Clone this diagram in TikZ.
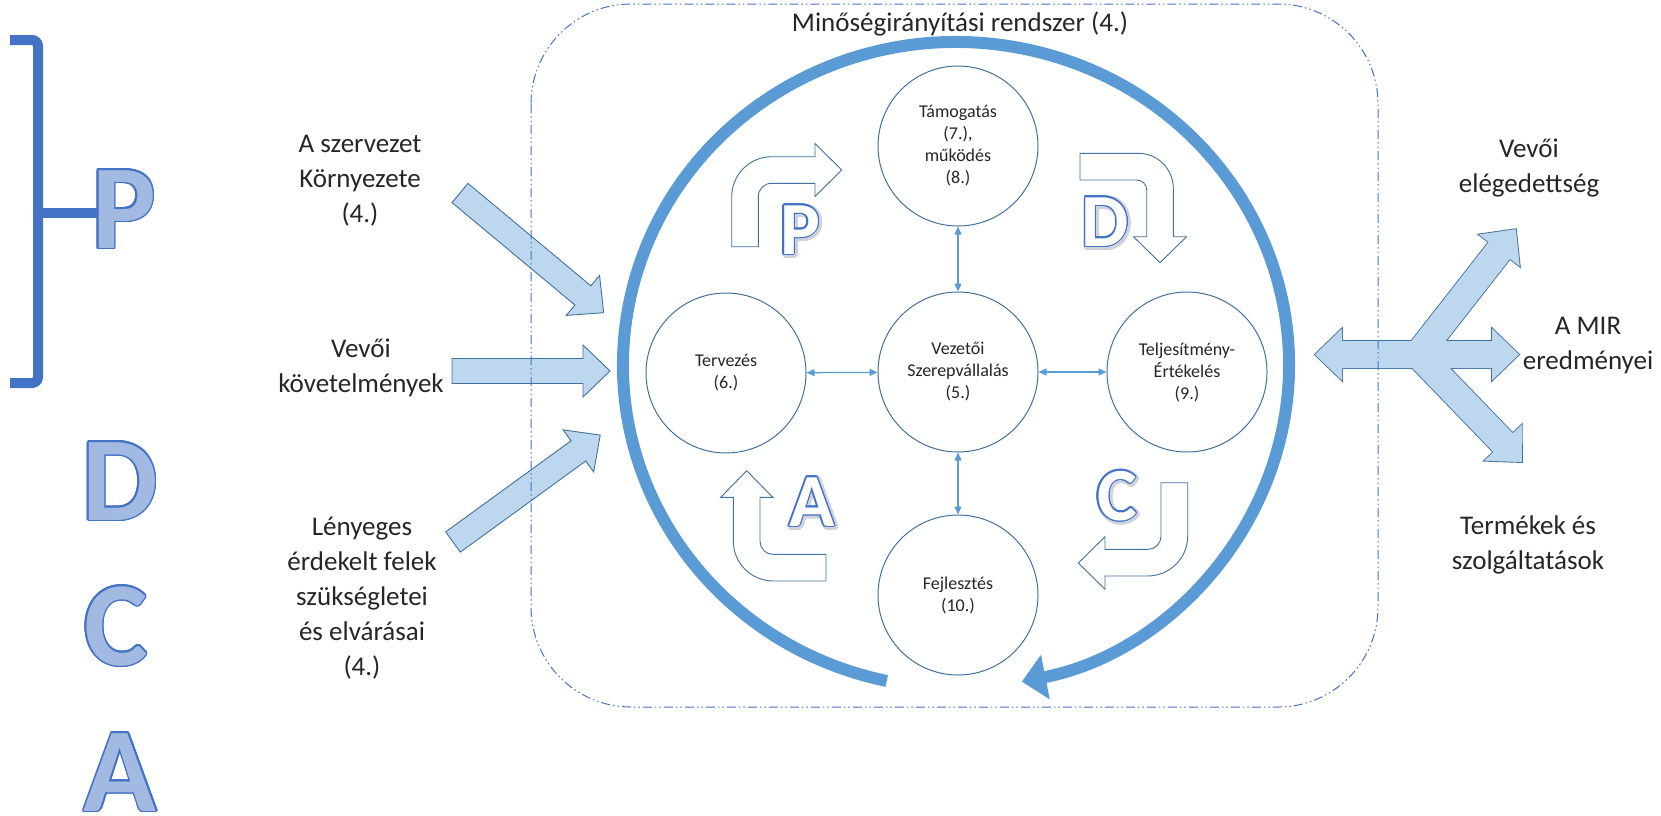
\documentclass[tikz,border=0pt]{standalone}
\usepackage{fontspec}
\setmainfont{Carlito}
\usepackage{contour}
\usetikzlibrary{arrows.meta,calc}
\definecolor{ringblue}{HTML}{5B9BD5}
\definecolor{lightfill}{HTML}{BDD7EE}
\definecolor{edgeblue}{HTML}{41719C}
\definecolor{accent}{HTML}{4472C4}
\definecolor{txt}{HTML}{262626}
\definecolor{patfill}{RGB}{162,186,226}
\definecolor{glow}{RGB}{205,210,220}

% block arrow: #1 style, #2 start, #3 angle, #4 length, #5 half shaft width
\newcommand{\blkarrow}[5]{%
\begin{scope}[shift={(#2)},rotate=#3]
\path[#1] (0,-#5) -- ({#4-27},-#5) -- ({#4-27},-26) -- (#4,0) -- ({#4-27},26) -- ({#4-27},#5) -- (0,#5) -- cycle;
\end{scope}}

\begin{document}
\begin{tikzpicture}[x=1pt,y=-1pt,
  ring/.style={draw=ringblue, line width=12pt, -{Triangle[length=24pt,width=44pt]}},
  circ/.style={circle, draw=edgeblue, line width=1pt, fill=white, minimum size=160pt, inner sep=0pt, align=center, text=txt, font=\fontsize{18}{22}\selectfont},
  link/.style={draw=ringblue, line width=1.3pt, {Triangle[length=8pt,width=7pt]}-{Triangle[length=8pt,width=7pt]}},
  lbl/.style={align=center, text=txt, font=\fontsize{27}{35}\selectfont, inner sep=0pt},
  bentarrow/.style={draw=edgeblue, line width=0.9pt, fill=white, line join=miter},
  blkone/.style={fill=lightfill, draw=edgeblue, line width=0.9pt, line join=miter},
  blkline/.style={draw=edgeblue, line width=1.8pt, line join=miter},
  blkfill/.style={fill=lightfill},
  framebox/.style={draw=accent, line width=1pt, rounded corners=100pt, dash pattern=on 9pt off 3pt on 1.5pt off 3pt on 1.5pt off 3pt},
  bracket/.style={draw=accent, line width=10pt},
  bigletter/.style={font=\fontsize{120}{120}\selectfont\bfseries, anchor=base, inner sep=0pt},
  smallletter/.style={font=\fontsize{75}{75}\selectfont\bfseries, anchor=base, inner sep=0pt}
]
\useasboundingbox (0,0) rectangle (1661,815);

% left bracket and big PDCA letters
\draw[bracket, rounded corners=6pt] (10,40) -- (38,40) -- (38,383) -- (10,383);
\draw[bracket] (38,213) -- (100,213);
\node[bigletter] (bigP) at (124,248) {\contourlength{1.6pt}\color{patfill}\contour{accent}{P}};
\node[bigletter] (bigD) at (120,520) {\contourlength{1.6pt}\color{patfill}\contour{accent}{D}};
\node[bigletter] (bigC) at (116,665) {\contourlength{1.6pt}\color{patfill}\contour{accent}{C}};
\node[bigletter] (bigA) at (120,811) {\contourlength{1.6pt}\color{patfill}\contour{accent}{A}};

% left input arrows
\blkarrow{blkone}{460,193}{-39.8}{187}{12.5}
\blkarrow{blkone}{452,371}{0}{158}{12.5}
\blkarrow{blkone}{453,542}{36}{182}{12.5}

% right branched arrow
\blkarrow{blkline}{1418,354.5}{180}{103}{13.5}
\blkarrow{blkline}{1418,354.5}{52}{159}{13.5}
\blkarrow{blkline}{1418,354.5}{0}{101}{13.5}
\blkarrow{blkline}{1418,354.5}{-46}{149.5}{13.5}
\blkarrow{blkfill}{1418,354.5}{180}{103}{13.5}
\blkarrow{blkfill}{1418,354.5}{52}{159}{13.5}
\blkarrow{blkfill}{1418,354.5}{0}{101}{13.5}
\blkarrow{blkfill}{1418,354.5}{-46}{149.5}{13.5}

% frame
\draw[framebox] (531,4) rectangle (1378,707);
\node[lbl] (title) at (960,24) {Minőségirányítási rendszer (4.)};

% big ring arrow
\coordinate (ringc) at (956,365);
\draw[ring] ($(ringc)+(102:333 and 323)$) arc[start angle=102, end angle=438.6, x radius=333, y radius=323];

% circles
\node[circ] (cT) at (958,146) {Támogatás\\(7.),\\működés\\(8.)};
\node[circ] (cL) at (726,373) {Tervezés\\(6.)};
\node[circ] (cC) at (958,372) {Vezetői\\Szerepvállalás\\(5.)};
\node[circ] (cR) at (1187,372) {Teljesítmény-\\Értékelés\\(9.)};
\node[circ] (cB) at (958,595) {Fejlesztés\\(10.)};
\draw[link] (cC) -- (cT);
\draw[link] (cC) -- (cL);
\draw[link] (cC) -- (cR);
\draw[link] (cC) -- (cB);

% PDCA bent arrows
\draw[bentarrow] (731.7,246.7) -- (731.7,196.7) arc[start angle=180,end angle=270,radius=40] -- (815,156.7) -- (815,143.5) -- (841.7,170) -- (815,196.5) -- (815,183.3) -- (771.6,183.3) arc[start angle=270,end angle=180,radius=13.3] -- (758.3,246.7) -- cycle;
\draw[bentarrow] (1080,153.3) -- (1138.3,153.3) arc[start angle=270,end angle=360,radius=35] -- (1173.3,236.7) -- (1186.5,236.7) -- (1160,262.7) -- (1133.5,236.7) -- (1146.7,236.7) -- (1146.7,190) arc[start angle=0,end angle=-90,radius=10] -- (1080,180) -- cycle;
\draw[bentarrow] (826,554.3) -- (773,554.3) arc[start angle=90,end angle=180,radius=13] -- (760,497.3) -- (772.7,497.3) -- (746.7,470.7) -- (720.7,497.3) -- (733.3,497.3) -- (733.3,541) arc[start angle=180,end angle=90,radius=40] -- (826,581) -- cycle;
\draw[bentarrow] (1161,482.7) -- (1187.7,482.7) -- (1187.7,536) arc[start angle=0,end angle=90,radius=40] -- (1105,576) -- (1105,589.3) -- (1078.3,563) -- (1105,536.7) -- (1105,549.3) -- (1148,549.3) arc[start angle=90,end angle=0,radius=13] -- cycle;

% inner letters
\node[smallletter] (glowP) at (801.5,255.5) {\contourlength{3pt}\color{glow}\contour{glow}{P}};
\node[smallletter] (inP) at (800,254) {\contourlength{1.3pt}\color{white}\contour{accent}{P}};
\node[smallletter] (glowD) at (1106.5,247.5) {\contourlength{3pt}\color{glow}\contour{glow}{D}};
\node[smallletter] (inD) at (1105,246) {\contourlength{1.3pt}\color{white}\contour{accent}{D}};
\node[smallletter] (glowC) at (1118.5,521.5) {\contourlength{3pt}\color{glow}\contour{glow}{C}};
\node[smallletter] (inC) at (1117,520) {\contourlength{1.3pt}\color{white}\contour{accent}{C}};
\node[smallletter] (glowA) at (813.5,527.5) {\contourlength{3pt}\color{glow}\contour{glow}{A}};
\node[smallletter] (inA) at (812,526) {\contourlength{1.3pt}\color{white}\contour{accent}{A}};

% outer labels
\node[lbl] (szerv) at (360,181) {A szervezet\\Környezete\\(4.)};
\node[lbl] (vevo) at (361,368) {Vevői\\követelmények};
\node[lbl] (erdek) at (362,598) {Lényeges\\érdekelt felek\\szükségletei\\és elvárásai\\(4.)};
\node[lbl] (eleg) at (1529,168) {Vevői\\elégedettség};
\node[lbl] (mir) at (1588,346) {A MIR\\eredményei};
\node[lbl] (term) at (1528,545) {Termékek és\\szolgáltatások};
\end{tikzpicture}
\end{document}
